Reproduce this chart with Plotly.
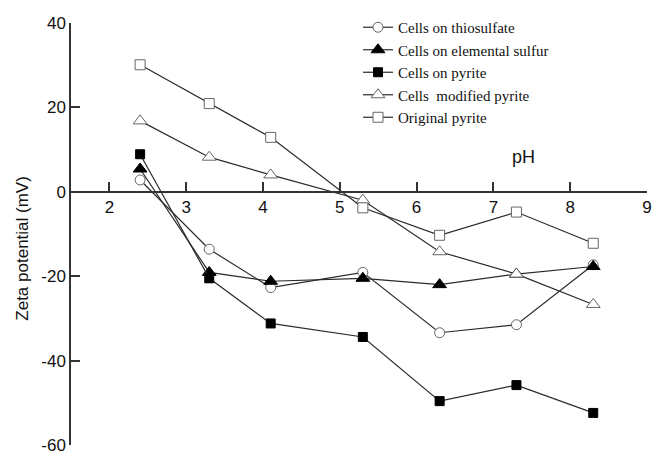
import plotly.graph_objects as go

ph = [2.4, 3.3, 4.1, 5.3, 6.3, 7.3, 8.3]
thiosulfate = [2.8, -13.6, -22.7, -19.1, -33.4, -31.5, -17.3]
elemental_sulfur = [5.4, -19.1, -21.2, -20.5, -22.0, -19.5, -17.7]
cells_pyrite = [8.9, -20.5, -31.2, -34.4, -49.6, -45.8, -52.4]
modified_pyrite = [16.8, 8.2, 4.0, -2.0, -14.2, -19.5, -26.7]
original_pyrite = [30.1, 20.9, 12.9, -3.8, -10.3, -4.8, -12.2]

x_ticks = [2, 3, 4, 5, 6, 7, 8, 9]
y_ticks = [-60, -40, -20, 0, 20, 40]
y_ticktext = ["-60", "-40", "-20", "0", "20", "40"]

names = ["Cells on thiosulfate", "Cells on elemental sulfur", "Cells on pyrite",
         "Cells  modified pyrite", "Original pyrite"]
series = [thiosulfate, elemental_sulfur, cells_pyrite, modified_pyrite, original_pyrite]
symbols = ["circle", "triangle-up", "square", "triangle-up", "square"]
fills = ["white", "black", "black", "white", "white"]
edges = ["#666666", "black", "black", "#666666", "#666666"]
sizes = [10, 12, 9, 12, 10]

fig = go.Figure()
for n, s, sym, f, e, sz in zip(names, series, symbols, fills, edges, sizes):
    fig.add_trace(go.Scatter(
        x=ph, y=s, name=n, mode="lines+markers",
        line=dict(color="#2a2a2a", width=1.2),
        marker=dict(symbol=sym, size=sz, color=f, line=dict(color=e, width=1)),
    ))

T, B = 23, 9
H = 454 - T - B
fig.update_layout(
    width=652, height=454,
    margin=dict(l=71, r=5, t=T, b=B, autoexpand=False),
    paper_bgcolor="white", plot_bgcolor="white",
    font=dict(family="Liberation Sans, Arial", size=17, color="#111111"),
    showlegend=True,
    legend=dict(x=(358 - 71) / 576, y=1 + 12 / H, xanchor="left", yanchor="top",
                font=dict(family="Liberation Serif, Times New Roman", size=15, color="#111111"),
                bgcolor="rgba(0,0,0,0)", borderwidth=0, tracegroupgap=0),
    xaxis=dict(range=[1.5, 9], tickvals=x_ticks, automargin=False,
               showgrid=False, zeroline=False, showline=True, linecolor="#333333", linewidth=1.5,
               ticks="inside", ticklen=9, tickwidth=1.5, tickcolor="#333333",
               anchor="free", position=0.6, tickfont=dict(size=17),
               ticklabeloverflow="allow"),
    yaxis=dict(range=[-60, 40], tickvals=y_ticks, ticktext=y_ticktext, automargin=False,
               showgrid=False, zeroline=False, showline=True, linecolor="#333333", linewidth=1.5,
               ticks="inside", ticklen=9, tickwidth=1.5, tickcolor="#333333",
               tickfont=dict(size=17), ticklabeloverflow="allow"),
    annotations=[
        dict(text="Zeta potential (mV)", textangle=-90, xref="paper", yref="paper",
             x=(21.7 - 71) / 576, y=(454 - B - 248) / H, xanchor="center", yanchor="middle",
             showarrow=False, font=dict(size=17)),
        dict(text="pH", xref="x", yref="y", x=7.39, y=8.2, showarrow=False,
             font=dict(size=18)),
    ],
)
fig.write_html("out.html")
